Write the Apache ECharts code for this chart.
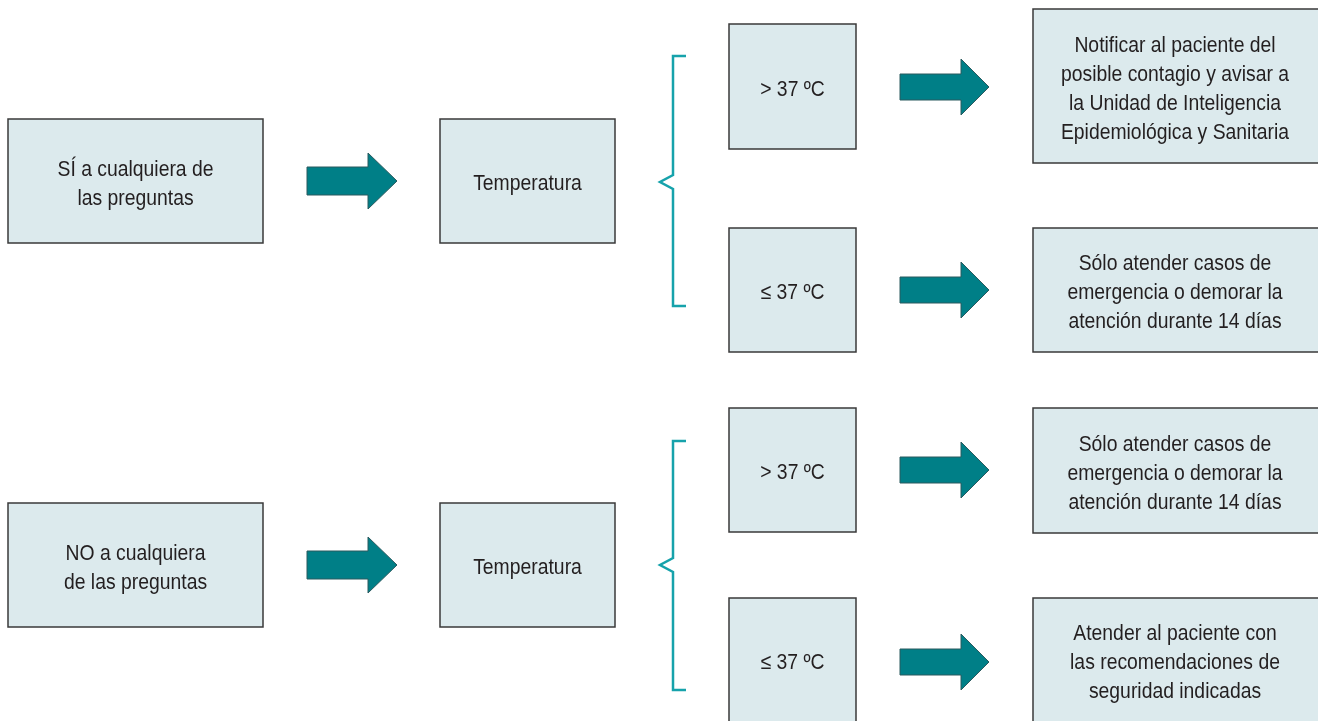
<!DOCTYPE html>
<html>
<head>
<meta charset="utf-8">
<title>Flujo de atención</title>
<script src="https://cdn.jsdelivr.net/npm/echarts@6/dist/echarts.min.js"></script>
<style>
  html, body { margin: 0; padding: 0; background: #fff; }
  #chart { width: 1318px; height: 721px; }
</style>
</head>
<body>
<div id="chart"></div>
<script>
// textos del diagrama
const respuestas = ['SÍ a cualquiera de\nlas preguntas', 'NO a cualquiera\nde las preguntas']
const medicion = ['Temperatura', 'Temperatura']
const rangos = ['> 37 ºC', '≤ 37 ºC', '> 37 ºC', '≤ 37 ºC']
const acciones = [
  'Notificar al paciente del\nposible contagio y avisar a\nla Unidad de Inteligencia\nEpidemiológica y Sanitaria',
  'Sólo atender casos de\nemergencia o demorar la\natención durante 14 días',
  'Sólo atender casos de\nemergencia o demorar la\natención durante 14 días',
  'Atender al paciente con\nlas recomendaciones de\nseguridad indicadas'
]

// layout (in axis units == pixels)
const colA = [8, 263]
const colB = [440, 615]
const colC = [729, 856]
const colD = [1033, 1330]
const rowsAB = [[119, 243], [503, 627]]
const rowsC = [[24, 149], [228, 352], [408, 532], [598, 730]]
const rowsD = [[9, 163], [228, 352], [408, 533], [598, 730]]
const arrowsLeft = [181, 565]
const arrowsRight = [87, 290, 470, 662]
const braces = [[56, 182, 306], [441, 565, 690]]

const FILL = '#dceaed'
const STROKE = '#3a3a3a'
const TEAL = '#007f87'
const BRACE = '#16a2ab'
const TXT = '#231f20'
const FONT = '22px "Liberation Sans", Arial, sans-serif'

const boxData = []
respuestas.forEach((t, i) => boxData.push([colA[0], rowsAB[i][0], colA[1], rowsAB[i][1], t]))
medicion.forEach((t, i) => boxData.push([colB[0], rowsAB[i][0], colB[1], rowsAB[i][1], t]))
rangos.forEach((t, i) => boxData.push([colC[0], rowsC[i][0], colC[1], rowsC[i][1], t]))
acciones.forEach((t, i) => {
  // text centred on the visible part of the box
  boxData.push([colD[0], rowsD[i][0], colD[1], rowsD[i][1], t, 1175])
})

const arrowData = []
arrowsLeft.forEach(y => arrowData.push([307, y, 368, 397, 14]))
arrowsRight.forEach(y => arrowData.push([900, y, 961, 989, 13]))

const chart = echarts.init(document.getElementById('chart'))

chart.setOption({
  animation: false,
  grid: { left: 0, right: 0, top: 0, bottom: 0 },
  xAxis: { type: 'value', min: 0, max: 1318, show: false },
  yAxis: { type: 'value', min: 0, max: 721, inverse: true, show: false },
  series: [
    {
      type: 'custom',
      coordinateSystem: 'cartesian2d',
      data: boxData,
      encode: { x: [0, 2], y: [1, 3] },
      renderItem(params, api) {
        const d = boxData[params.dataIndex]
        const p0 = api.coord([d[0], d[1]])
        const p1 = api.coord([d[2], d[3]])
        const cx = d[5] != null ? api.coord([d[5], 0])[0] : (p0[0] + p1[0]) / 2
        return {
          type: 'group',
          children: [{
            type: 'rect',
            shape: { x: p0[0], y: p0[1], width: p1[0] - p0[0], height: p1[1] - p0[1] },
            style: { fill: FILL, stroke: STROKE, lineWidth: 1.5 }
          }, {
            type: 'text',
            x: cx,
            y: (p0[1] + Math.min(p1[1], 721)) / 2 + 3,
            scaleX: 0.88,
            style: {
              text: d[4],
              font: FONT,
              fill: TXT,
              align: 'center',
              verticalAlign: 'middle',
              lineHeight: 29
            }
          }]
        }
      }
    },
    {
      type: 'custom',
      coordinateSystem: 'cartesian2d',
      data: arrowData,
      encode: { x: [0, 3], y: 1 },
      renderItem(params, api) {
        const d = arrowData[params.dataIndex]
        const s = api.coord([d[0], d[1]])
        const hx = api.coord([d[2], d[1]])[0]
        const tx = api.coord([d[3], d[1]])[0]
        const sh = d[4]
        const hh = 28
        const y = s[1]
        return {
          type: 'polygon',
          shape: {
            points: [
              [s[0], y - sh], [hx, y - sh], [hx, y - hh], [tx, y],
              [hx, y + hh], [hx, y + sh], [s[0], y + sh]
            ]
          },
          style: { fill: TEAL, stroke: '#2b5a5e', lineWidth: 1 }
        }
      }
    },
    {
      type: 'custom',
      coordinateSystem: 'cartesian2d',
      data: braces,
      encode: { y: [0, 2] },
      renderItem(params, api) {
        const d = braces[params.dataIndex]
        const top = api.coord([673, d[0]])
        const mid = api.coord([660, d[1]])
        const bot = api.coord([673, d[2]])
        const xr = api.coord([686, 0])[0]
        const x = top[0]
        return {
          type: 'polyline',
          shape: {
            points: [
              [xr, top[1]], [x, top[1]], [x, mid[1] - 7], [mid[0], mid[1]],
              [x, mid[1] + 7], [x, bot[1]], [xr, bot[1]]
            ]
          },
          style: { fill: null, stroke: BRACE, lineWidth: 2.5 }
        }
      }
    }
  ]
})
</script>
</body>
</html>
